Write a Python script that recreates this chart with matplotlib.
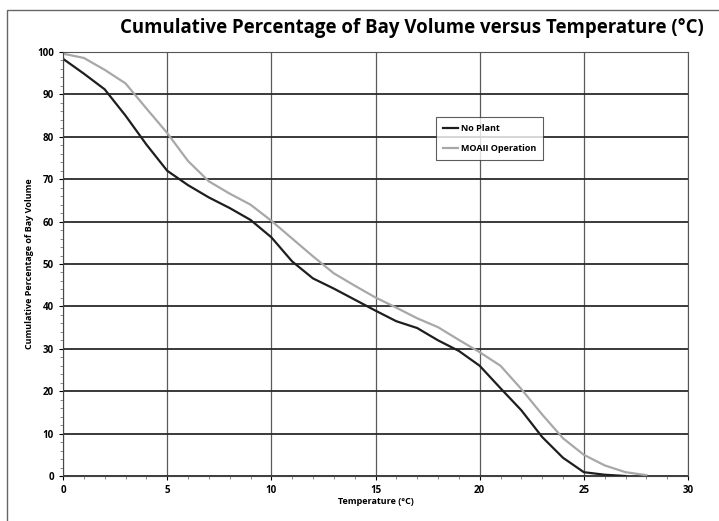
import numpy as np
import matplotlib
matplotlib.use("Agg")
import matplotlib.pyplot as plt
from matplotlib.patches import Rectangle

# temperature (deg C) and cumulative percentage of bay volume
temp_no_plant = [0, 1, 2, 3, 4, 5, 6, 7, 8, 9, 10, 11, 12, 13, 14,
                 15, 16, 17, 18, 19, 20, 21, 22, 23, 24, 25, 26, 27]
no_plant = [98.4, 94.9, 91.2, 85.0, 78.2, 72.0, 68.6, 65.7, 63.2, 60.4,
            56.3, 50.6, 46.6, 44.2, 41.6, 39.0, 36.5, 34.9, 32.0, 29.5,
            26.0, 20.7, 15.5, 9.2, 4.3, 0.9, 0.3, 0.0]

temp_moaii = [0, 1, 2, 3, 4, 5, 6, 7, 8, 9, 10, 11, 12, 13, 14,
              15, 16, 17, 18, 19, 20, 21, 22, 23, 24, 25, 26, 27, 28]
moaii = [99.6, 98.6, 95.8, 92.6, 86.7, 80.9, 74.3, 69.5, 66.6, 64.0,
         60.2, 56.0, 51.8, 47.8, 44.9, 42.1, 39.7, 37.2, 35.1, 32.1,
         29.2, 26.0, 20.5, 14.5, 8.9, 5.0, 2.5, 0.9, 0.2]

x_ticks = [0, 5, 10, 15, 20, 25, 30]
y_ticks = [0, 10, 20, 30, 40, 50, 60, 70, 80, 90, 100]

plt.rcParams['font.family'] = ['Open Sans', 'DejaVu Sans']
plt.rcParams['font.weight'] = 'bold'

fig = plt.figure(figsize=(7.19, 5.21), dpi=100)
fig.patches.append(Rectangle((7/719, -0.02), 1.0, 1 - 10/521 + 0.02,
                             transform=fig.transFigure, fill=False,
                             edgecolor='#666666', linewidth=1.0))

ax = fig.add_axes([63/719, 45/521, 625/719, 424/521])

ax.plot(temp_no_plant, no_plant, color='#1e1e1e', linewidth=1.6, label='No Plant')
ax.plot(temp_moaii, moaii, color='#a8a8a8', linewidth=1.6, label='MOAII Operation')

ax.set_xlim(0, 30)
ax.set_ylim(0, 100)
ax.set_xticks(x_ticks)
ax.set_yticks(y_ticks)
ax.set_xticks(np.arange(0, 31, 1), minor=True)
ax.set_yticks(np.arange(0, 101, 2), minor=True)

ax.grid(axis='y', which='major', color='#2a2a2a', linewidth=1.3)
ax.grid(axis='x', which='major', color='#5a5a5a', linewidth=0.9)
ax.tick_params(axis='both', which='major', labelsize=7, length=3, width=0.8)
ax.tick_params(axis='both', which='minor', length=2, width=0.6, color='#777777')
for lab in ax.get_xticklabels() + ax.get_yticklabels():
    lab.set_fontweight('bold')

for side in ['left', 'bottom']:
    ax.spines[side].set_color('#444444')
for side in ['top', 'right']:
    ax.spines[side].set_color('#555555')

ax.set_xlabel('Temperature (°C)', fontsize=6.5, fontweight='bold', labelpad=1)
ax.set_ylabel('Cumulative Percentage of Bay Volume', fontsize=6.5,
              fontweight='bold', labelpad=2)

fig.suptitle('Cumulative Percentage of Bay Volume versus Temperature (°C)',
             x=0.573, y=0.965, fontsize=13.4, fontweight='bold')

leg = ax.legend(loc='upper left', bbox_to_anchor=(0.59, 0.858), fontsize=6.5,
                frameon=True, fancybox=False, edgecolor='#333333',
                handlelength=1.6, handletextpad=0.3, borderpad=0.8,
                labelspacing=1.2)
leg.get_frame().set_linewidth(0.8)
for t in leg.get_texts():
    t.set_fontweight('bold')

plt.savefig('out.png', dpi=100)
